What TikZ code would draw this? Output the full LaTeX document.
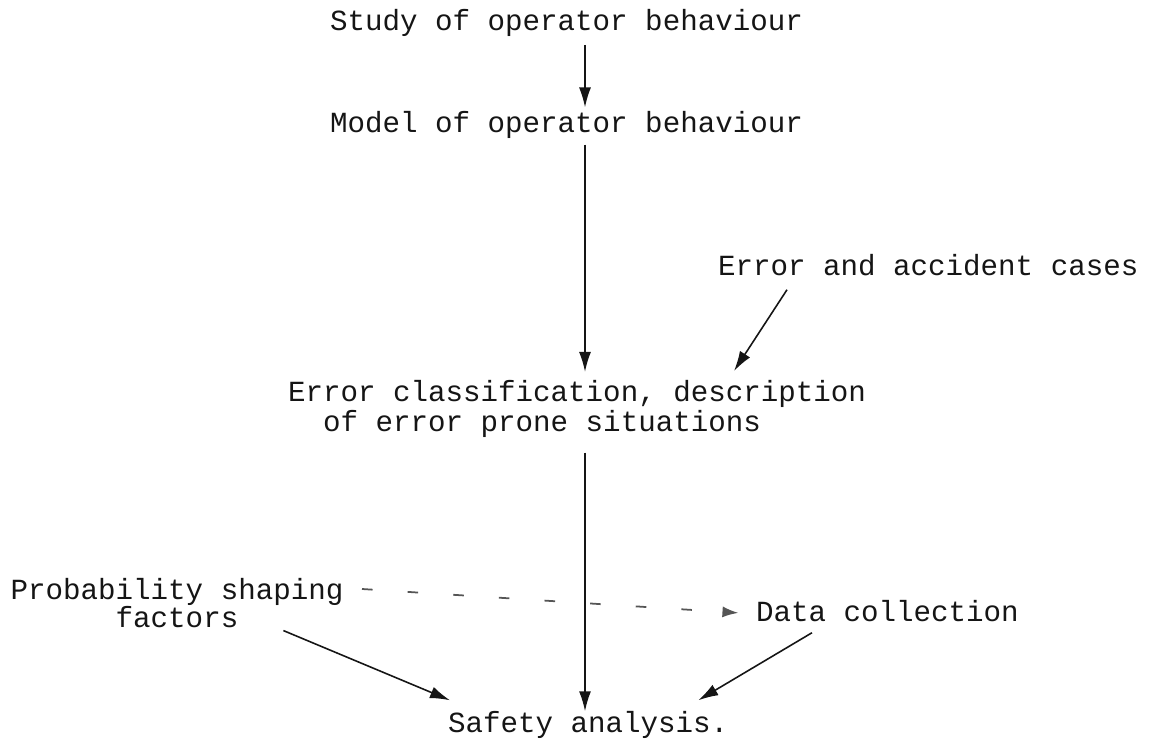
\documentclass[tikz,border=0pt]{standalone}
\usepackage{fontspec}
\setmonofont{Liberation Mono}
\usetikzlibrary{arrows.meta,positioning}
\definecolor{ink}{HTML}{151515}
\definecolor{faint}{HTML}{555555}
\tikzset{
  txt/.style={font=\ttfamily\fontsize{8.3}{8.5}\selectfont,text=ink,inner sep=0pt,outer sep=0pt},
  oneline/.style={txt,text height=6pt,text depth=1.8pt},
  flow/.style={-{Latex[length=2mm,width=1.2mm]},line width=0.45pt,draw=ink},
  softflow/.style={-{Latex[length=1.6mm,width=1.1mm]},line width=0.5pt,draw=faint,dash pattern=on 3pt off 10pt}
}

\begin{document}
\begin{tikzpicture}[x=0.01cm,y=-0.01cm]
        \useasboundingbox (0,0) rectangle (1149,740);
        \node[oneline,anchor=west] (study) at (330,23) {Study of operator behaviour};
        \node[oneline,anchor=west] (model) at (330,125) {Model of operator behaviour};
        \node[oneline,anchor=west] (cases) at (718,268) {Error and accident cases};
        \node[txt,anchor=north west,align=left] (classif) at (288,380) {Error classification, description\\\phantom{Er}of error prone situations};
        \node[txt,anchor=north,align=center] (shaping) at (177,578) {Probability shaping\\[-0.5pt]factors};
        \node[oneline,anchor=west] (datacoll) at (756,614) {Data collection};
        \node[oneline,anchor=west] (safety) at (448,725) {Safety analysis.};
        \coordinate (axis) at (585,0);
        \coordinate (dashstart) at (362,589);
        \draw[flow,shorten <=2.3pt,shorten >=1.1pt] (study.south -| axis) -- (model.north -| axis);
        \draw[flow,shorten <=1.7pt,shorten >=2.3pt] (model.south -| axis) -- (classif.north -| axis);
        \draw[flow] ([shift={(69,8)}]cases.south west) -- ([shift={(-132,-9)}]classif.north east);
        \draw[flow,shorten <=4.4pt] (classif.south -| axis) -- (safety.north -| axis);
        \draw[softflow,shorten >=5pt] (dashstart) -- (datacoll.west);
        \draw[flow] ([shift={(-60,3)}]shaping.south east) -- ([shift={(2,-11)}]safety.north west);
        \draw[flow] ([shift={(56,5)}]datacoll.south west) -- ([shift={(-30,-11)}]safety.north east);
\end{tikzpicture}
\end{document}
